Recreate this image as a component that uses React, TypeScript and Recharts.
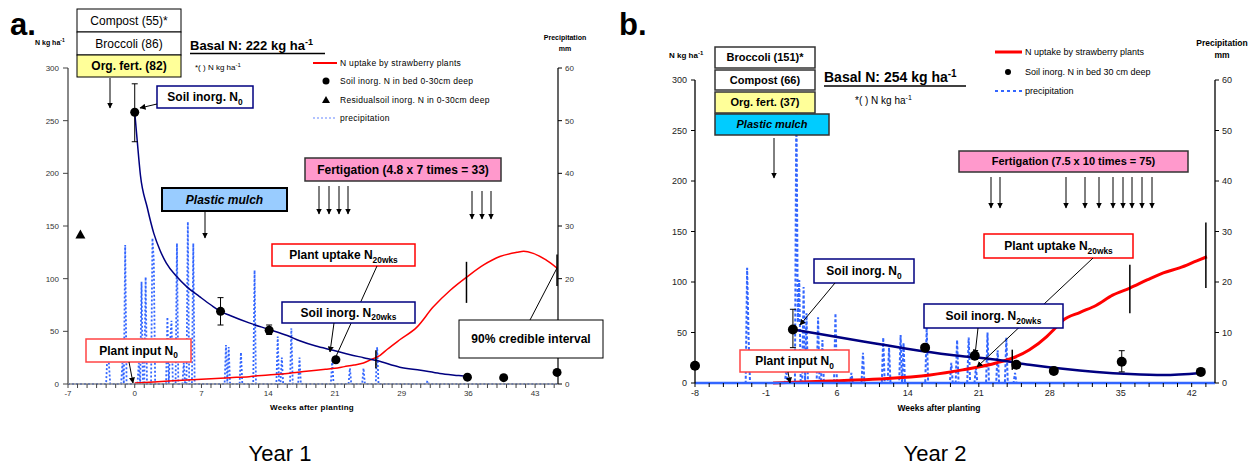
import React from 'react';
import { ComposedChart, Line, Scatter, XAxis, YAxis, ErrorBar } from 'recharts';

const FONT = "Arial, 'Liberation Sans', Helvetica, sans-serif";

// ---------------- Panel a (Year 1) data ----------------
// x values are plotting positions (weeks) on the figure's week axis
const xLabelPosA = [-7, 0, 7, 14, 21, 28, 35, 42];
const xLabelsA = ['-7', '0', '7', '14', '21', '29', '36', '43'];

const soilWeeksA = [0, 9, 14.1];
const soilValsA = [258, 69, 51];
const soilErrLoA = [28, 13, 4];
const soilErrHiA = [27, 13, 5];
const soilWeeksA2 = [21.1, 34.9, 38.7, 44.3];
const soilValsA2 = [23, 6.5, 6, 11];

const residWeeksA = [-5.7];
const residValsA = [142];

const soilCurveWeeksA = [0, 0.25, 0.6, 1.3, 2, 2.65, 3.3, 4.4, 5.5, 6.8, 8, 9, 10, 12, 14, 16, 17.3, 19, 20.8, 22.5, 24, 25.5, 27.8, 30, 32, 34, 35];
const soilCurveValsA = [258, 232, 198, 168, 143, 127, 115, 102, 92, 83, 75, 69, 65, 58, 52, 46, 41, 36, 32, 28, 25, 22, 16, 13, 10, 8, 7];

const uptakeWeeksA = [0, 2, 4, 6, 8, 10, 12, 14, 16, 18, 20, 21, 22, 23, 24, 25, 25.7, 26.5, 27.8, 29.6, 31.3, 33.1, 34.9, 36.6, 38.3, 40.1, 40.8, 41.8, 43.1, 44.3];
const uptakeValsA = [1, 2, 3, 4, 5, 6, 7, 8.5, 10, 12, 14, 15, 16.5, 18, 20, 24, 27, 33, 42, 54, 73, 89, 102, 113, 121, 125, 126, 124, 118, 110];

const ciWeeksA = [25.3, 34.8, 44.3];
const ciLoA = [15, 77, 93];
const ciHiA = [32, 116, 123];

const rainDaysA = [-20, -19, -9, -7, 3, 5, 8, 13, 14, 24, 26, 27, 31, 36, 39, 43, 67, 69, 78, 88, 105, 108, 115, 121, 145, 158, 168, 178, 215];
const rainMmA = [6, 4, 4, 26.4, 4, 19.4, 20.3, 27.7, 23.5, 12.7, 8, 12, 26.7, 4, 30.8, 26.7, 7.4, 7, 6, 21.6, 9, 5, 10.6, 5, 4.5, 3, 3, 7, 0.6];

// ---------------- Panel b (Year 2) data ----------------
const xLabelPosB = [-8, -1, 6, 13, 20, 27, 34, 41];
const xLabelsB = ['-8', '-1', '6', '14', '21', '28', '35', '42'];

const soilWeeksB = [1.66, 34.1];
const soilValsB = [53, 21];
const soilErrLoB = [18, 10];
const soilErrHiB = [20, 11];
const soilWeeksB2 = [-8, 14.7, 19.6, 23.7, 27.4, 41.9];
const soilValsB2 = [17, 35, 27, 18, 12, 11];

const soilCurveWeeksB = [1.66, 4.3, 8.6, 12.9, 17.1, 21.8, 25, 28.3, 31.6, 34.9, 38.2, 41.9];
const soilCurveValsB = [53, 48.5, 41, 34, 28, 23, 18, 14, 11, 9, 8, 10];

const uptakeWeeksB = [-0.3, 5.3, 10.2, 15.2, 18.4, 21.8, 23.4, 25, 26.7, 27.5, 28.3, 30, 31.6, 33.2, 34.9, 36.6, 38.2, 39.8, 41.5, 42.5];
const uptakeValsB = [0, 2, 4, 8, 13, 20, 25, 33, 46, 54, 62, 70, 77, 87, 94, 102, 109, 114, 121, 125];

const ciWeeksB = [23.3, 34.9, 42.4];
const ciLoB = [13, 69, 94];
const ciHiB = [33, 117, 159];

const rainDaysB = [-20, -19, 7, 14, 15, 16, 19, 21, 29, 32, 41, 52, 60, 74, 78, 86, 88, 104, 121, 125, 133, 138, 146, 153, 159, 165];
const rainMmB = [22.8, 9, 2.5, 57, 12, 20.4, 19, 13.8, 13, 8.5, 13.8, 2, 6, 9, 7, 9.5, 8, 11, 4, 8.5, 9, 3, 10, 6.5, 9, 2];

// ---------------- helpers ----------------
const pts = (xs: number[], ys: number[]) => xs.map((x, i) => ({ x, y: ys[i] }));
const errPts = (xs: number[], ys: number[], lo: number[], hi: number[]) =>
  xs.map((x, i) => ({ x, y: ys[i], err: [lo[i], hi[i]] }));
const ciPts = (xs: number[], lo: number[], hi: number[]) =>
  xs.map((x, i) => {
    const mid = (lo[i] + hi[i]) / 2;
    return { x, y: mid, err: [mid - lo[i], hi[i] - mid] };
  });
const dailyRain = (days: number[], mm: number[], d0: number, d1: number) => {
  const m = new Map<number, number>();
  days.forEach((d, i) => m.set(d, mm[i]));
  const out: { x: number; y: number }[] = [];
  for (let d = d0; d <= d1; d++) out.push({ x: d / 7, y: m.get(d) ?? 0 });
  return out;
};
const fmt = (pos: number[], labels: string[]) => (v: number) => {
  const i = pos.findIndex((p) => Math.abs(p - v) < 1e-6);
  return i >= 0 ? labels[i] : '';
};

const ticksA: number[] = [];
for (let k = -7; k <= 44; k++) ticksA.push(k);
const ticksB: number[] = [];
for (let k = 0; k <= 36; k++) ticksB.push(Number((-8 + k * 1.4).toFixed(2)));

const dataSoilA = errPts(soilWeeksA, soilValsA, soilErrLoA, soilErrHiA);
const dataSoilA2 = pts(soilWeeksA2, soilValsA2);
const dataResidA = pts(residWeeksA, residValsA);
const dataCurveA = pts(soilCurveWeeksA, soilCurveValsA);
const dataUptakeA = pts(uptakeWeeksA, uptakeValsA);
const dataCiA = ciPts(ciWeeksA, ciLoA, ciHiA);
const dataRainA = dailyRain(rainDaysA, rainMmA, -49, 310);

const dataSoilB = errPts(soilWeeksB, soilValsB, soilErrLoB, soilErrHiB);
const dataSoilB2 = pts(soilWeeksB2, soilValsB2);
const dataCurveB = pts(soilCurveWeeksB, soilCurveValsB);
const dataUptakeB = pts(uptakeWeeksB, uptakeValsB);
const dataCiB = ciPts(ciWeeksB, ciLoB, ciHiB);
const dataRainB = dailyRain(rainDaysB, rainMmB, -56, 303);

const Dot = (r: number) => (p: any) => <circle cx={p.cx} cy={p.cy} r={r} fill="#000" />;
const Tri = (p: any) => (
  <polygon points={`${p.cx},${p.cy - 5} ${p.cx - 5},${p.cy + 4} ${p.cx + 5},${p.cy + 4}`} fill="#000" />
);
const Nothing = () => <g />;

// ---------------- overlay helpers ----------------
type BoxProps = {
  x: number; y: number; w: number; h: number; fill?: string; stroke?: string; sw?: number;
  fs?: number; bold?: boolean; italic?: boolean; children: React.ReactNode;
};
const Box = ({ x, y, w, h, fill = '#fff', stroke = '#000', sw = 1.5, fs = 12, bold = true, italic = false, children }: BoxProps) => (
  <g>
    <rect x={x} y={y} width={w} height={h} fill={fill} stroke={stroke} strokeWidth={sw} />
    <text x={x + w / 2} y={y + h / 2 + fs * 0.36} textAnchor="middle" fontSize={fs}
      fontWeight={bold ? 'bold' : 'normal'} fontStyle={italic ? 'italic' : 'normal'} fill="#000">
      {children}
    </text>
  </g>
);
const Arrow = ({ x1, y1, x2, y2, head = true }: { x1: number; y1: number; x2: number; y2: number; head?: boolean }) => (
  <line x1={x1} y1={y1} x2={x2} y2={y2} stroke="#000" strokeWidth={1} markerEnd={head ? 'url(#ah)' : undefined} />
);
const Sub = ({ base, sub, fs }: { base: string; sub: string; fs: number }) => (
  <>
    <tspan>{base}</tspan>
    <tspan fontSize={fs * 0.7} dy={fs * 0.3}>{sub}</tspan>
  </>
);

const fertArrowsA = [319, 329, 339, 348];
const fertArrowsA2 = [472, 482, 491];
const fertArrowsB = [991, 1000, 1066, 1085, 1099, 1113, 1123, 1132, 1142, 1152];

const tickStyleA = { fontSize: 8, fill: '#333', fontFamily: FONT };
const tickStyleB = { fontSize: 9, fill: '#222', fontFamily: FONT };

function PanelA() {
  return (
    <div style={{ position: 'absolute', left: 0, top: 0 }}>
      <ComposedChart width={620} height={430} margin={{ top: 68, right: 22, bottom: 16, left: 28 }}>
        <XAxis type="number" dataKey="x" domain={[-7, 44.4]} ticks={ticksA} interval={0}
          tickFormatter={fmt(xLabelPosA, xLabelsA)} tickSize={4} tickMargin={2} height={30}
          axisLine={{ stroke: '#888', strokeWidth: 1.5 }} tickLine={{ stroke: '#444' }} tick={tickStyleA} />
        <YAxis yAxisId="l" type="number" domain={[0, 300]} ticks={[0, 50, 100, 150, 200, 250, 300]} width={40}
          tickSize={5} tickMargin={4} axisLine={{ stroke: '#888', strokeWidth: 2 }} tickLine={{ stroke: '#444' }} tick={tickStyleA} />
        <YAxis yAxisId="r" orientation="right" type="number" domain={[0, 60]} ticks={[0, 10, 20, 30, 40, 50, 60]} width={40}
          tickSize={4} tickMargin={3} axisLine={{ stroke: '#000', strokeWidth: 1.2 }} tickLine={{ stroke: '#000' }} tick={tickStyleA} />
        <Line yAxisId="r" data={dataRainA} dataKey="y" stroke="#3366FF" strokeWidth={1.8} strokeDasharray="2 2"
          dot={false} isAnimationActive={false} />
        <Line yAxisId="l" data={dataUptakeA} dataKey="y" type="monotone" stroke="#FF0000" strokeWidth={1.5}
          dot={false} isAnimationActive={false} />
        <Line yAxisId="l" data={dataCurveA} dataKey="y" type="monotone" stroke="#000080" strokeWidth={1.5}
          dot={false} isAnimationActive={false} />
        <Scatter yAxisId="l" data={dataCiA} dataKey="y" shape={Nothing} isAnimationActive={false}>
          <ErrorBar dataKey="err" direction="y" width={0} stroke="#000" strokeWidth={1.5} />
        </Scatter>
        <Scatter yAxisId="l" data={dataSoilA} dataKey="y" shape={Dot(4.5)} isAnimationActive={false}>
          <ErrorBar dataKey="err" direction="y" width={3} stroke="#000" strokeWidth={1} />
        </Scatter>
        <Scatter yAxisId="l" data={dataSoilA2} dataKey="y" shape={Dot(4.5)} isAnimationActive={false} />
        <Scatter yAxisId="l" data={dataResidA} dataKey="y" shape={Tri} isAnimationActive={false} />
      </ComposedChart>
    </div>
  );
}

function PanelB() {
  return (
    <div style={{ position: 'absolute', left: 630, top: 0 }}>
      <ComposedChart width={628} height={430} margin={{ top: 80, right: 3, bottom: 17, left: 25 }}>
        <XAxis type="number" dataKey="x" domain={[-8, 43.3]} ticks={ticksB} interval={0}
          tickFormatter={fmt(xLabelPosB, xLabelsB)} tickSize={4} tickMargin={3} height={30}
          axisLine={{ stroke: '#3366FF', strokeWidth: 2.5 }} tickLine={{ stroke: '#000' }} tick={tickStyleB} />
        <YAxis yAxisId="l" type="number" domain={[0, 300]} ticks={[0, 50, 100, 150, 200, 250, 300]} width={40}
          tickSize={4} tickMargin={4} axisLine={{ stroke: '#000', strokeWidth: 1.3 }} tickLine={{ stroke: '#000' }} tick={tickStyleB} />
        <YAxis yAxisId="r" orientation="right" type="number" domain={[0, 60]} ticks={[0, 10, 20, 30, 40, 50, 60]} width={40}
          tickSize={4} tickMargin={3} axisLine={{ stroke: '#000', strokeWidth: 1.3 }} tickLine={{ stroke: '#000' }} tick={tickStyleB} />
        <Line yAxisId="r" data={dataRainB} dataKey="y" stroke="#3366FF" strokeWidth={2} strokeDasharray="3 2"
          dot={false} isAnimationActive={false} />
        <Line yAxisId="l" data={dataUptakeB} dataKey="y" type="monotone" stroke="#FF0000" strokeWidth={3}
          dot={false} isAnimationActive={false} />
        <Line yAxisId="l" data={dataCurveB} dataKey="y" type="monotone" stroke="#000080" strokeWidth={2.5}
          dot={false} isAnimationActive={false} />
        <Scatter yAxisId="l" data={dataCiB} dataKey="y" shape={Nothing} isAnimationActive={false}>
          <ErrorBar dataKey="err" direction="y" width={0} stroke="#000" strokeWidth={1.5} />
        </Scatter>
        <Scatter yAxisId="l" data={dataSoilB} dataKey="y" shape={Dot(5)} isAnimationActive={false}>
          <ErrorBar dataKey="err" direction="y" width={3} stroke="#000" strokeWidth={1} />
        </Scatter>
        <Scatter yAxisId="l" data={dataSoilB2} dataKey="y" shape={Dot(5)} isAnimationActive={false} />
      </ComposedChart>
    </div>
  );
}

function Overlay() {
  return (
    <svg width={1258} height={468} style={{ position: 'absolute', left: 0, top: 0, pointerEvents: 'none' }}
      fontFamily={FONT}>
      <defs>
        <marker id="ah" markerWidth="6" markerHeight="6" refX="5.5" refY="3" orient="auto" markerUnits="userSpaceOnUse">
          <path d="M0,0 L6,3 L0,6 z" fill="#000" />
        </marker>
      </defs>

      {/* ---------- panel a ---------- */}
      <text x={10} y={35} fontSize={31} fontWeight="bold">a.</text>
      <text x={35} y={45} fontSize={7} fontWeight="bold">N kg ha<tspan fontSize={5} dy={-3}>-1</tspan></text>
      <Box x={77} y={9} w={104} h={23} bold={false} sw={1}>Compost (55)*</Box>
      <Box x={77} y={32} w={104} h={23} bold={false} sw={1}>Broccoli (86)</Box>
      <Box x={77} y={55} w={104} h={22} fill="#FFFF99" sw={1}>Org. fert. (82)</Box>
      <Arrow x1={110} y1={78} x2={110} y2={108} />
      <text x={190} y={50} fontSize={13} fontWeight="bold">Basal N: 222 kg ha<tspan fontSize={9} dy={-5}>-1</tspan></text>
      <line x1={190} y1={53.5} x2={325} y2={53.5} stroke="#000" strokeWidth={1.3} />
      <text x={195} y={70} fontSize={8}>*( ) N kg ha<tspan fontSize={6} dy={-3}>-1</tspan></text>

      <line x1={313} y1={63} x2={337} y2={63} stroke="#FF0000" strokeWidth={2} />
      <text x={340} y={66} fontSize={8.5} letterSpacing={0.3}>N uptake by strawberry plants</text>
      <circle cx={326} cy={81} r={3.5} fill="#000" />
      <text x={340} y={84} fontSize={8.5} letterSpacing={0.3}>Soil inorg. N in bed 0-30cm deep</text>
      <polygon points="326,96 322,103 330,103" fill="#000" />
      <text x={340} y={103} fontSize={8.5} letterSpacing={0.3}>Residualsoil inorg. N in 0-30cm deep</text>
      <line x1={313} y1={118} x2={337} y2={118} stroke="#6688FF" strokeWidth={1.2} strokeDasharray="2 2" />
      <text x={340} y={121} fontSize={8.5} letterSpacing={0.3}>precipitation</text>

      <text x={565} y={40} fontSize={7} fontWeight="bold" textAnchor="middle">Precipitation</text>
      <text x={565} y={51} fontSize={7} fontWeight="bold" textAnchor="middle">mm</text>

      <Box x={157} y={86} w={96} h={22} stroke="#000080"><Sub base="Soil inorg. N" sub="0" fs={12} /></Box>
      <Arrow x1={157} y1={104} x2={140} y2={108} />
      <Box x={162} y={188} w={125} h={23} fill="#99CCFF" sw={2} italic>Plastic mulch</Box>
      <Arrow x1={205} y1={211} x2={205} y2={238} />
      <Box x={305} y={158} w={196} h={23} fill="#FF99CC" stroke="#333">Fertigation (4.8 x 7 times = 33)</Box>
      {fertArrowsA.map((x) => <Arrow key={x} x1={x} y1={186} x2={x} y2={214} />)}
      {fertArrowsA2.map((x) => <Arrow key={x} x1={x} y1={191} x2={x} y2={219} />)}
      <Box x={272} y={244} w={143} h={22} stroke="#FF0000"><Sub base="Plant uptake N" sub="20wks" fs={12} /></Box>
      <Arrow x1={377} y1={266} x2={333} y2={363} />
      <Box x={282} y={302} w={133} h={21} stroke="#000080"><Sub base="Soil inorg. N" sub="20wks" fs={12} /></Box>
      <Arrow x1={334} y1={323} x2={330} y2={352} />
      <Box x={86} y={339} w={105} h={23} stroke="#FF4444"><Sub base="Plant input N" sub="0" fs={12} /></Box>
      <Arrow x1={129} y1={362} x2={133} y2={383} />
      <Box x={459} y={320} w={144} h={38} sw={1}>90% credible interval</Box>
      <Arrow x1={530} y1={320} x2={557} y2={268} head={false} />

      <text x={312} y={410} fontSize={8} fontWeight="bold" textAnchor="middle" letterSpacing={0.3}>Weeks after planting</text>
      <text x={280} y={461} fontSize={22} textAnchor="middle">Year 1</text>

      {/* ---------- panel b ---------- */}
      <text x={619} y={35} fontSize={31} fontWeight="bold">b.</text>
      <text x={669} y={58} fontSize={8} fontWeight="bold">N kg ha<tspan fontSize={6} dy={-3}>-1</tspan></text>
      <Box x={715} y={47} w={100} h={21} fs={11} stroke="#333">Broccoli (151)*</Box>
      <Box x={715} y={70} w={100} h={20} fs={11} stroke="#333">Compost (66)</Box>
      <Box x={715} y={92} w={100} h={21} fs={11} fill="#FFFF99" stroke="#333">Org. fert. (37)</Box>
      <Box x={715} y={114} w={114} h={21} fs={11} fill="#00CCFF" stroke="#333" italic>Plastic mulch</Box>
      <Arrow x1={774} y1={138} x2={774} y2={178} />
      <text x={824} y={82} fontSize={14} fontWeight="bold">Basal N: 254 kg ha<tspan fontSize={10} dy={-5}>-1</tspan></text>
      <line x1={824} y1={86} x2={966} y2={86} stroke="#000" strokeWidth={1.4} />
      <text x={855} y={104} fontSize={10}>*( ) N kg ha<tspan fontSize={7} dy={-4}>-1</tspan></text>

      <line x1={995} y1={52} x2={1022} y2={52} stroke="#FF0000" strokeWidth={3} />
      <text x={1025} y={55} fontSize={9}>N uptake by strawberry plants</text>
      <circle cx={1008} cy={72} r={3} fill="#000" />
      <text x={1025} y={75} fontSize={9}>Soil inorg. N in bed 30 cm deep</text>
      <line x1={995} y1={91} x2={1022} y2={91} stroke="#3366FF" strokeWidth={2} strokeDasharray="3 3" />
      <text x={1025} y={94} fontSize={9}>precipitation</text>

      <text x={1222} y={46} fontSize={8.5} fontWeight="bold" textAnchor="middle">Precipitation</text>
      <text x={1222} y={58} fontSize={8.5} fontWeight="bold" textAnchor="middle">mm</text>

      <Box x={959} y={151} w={229} h={21} fs={11} fill="#FF99CC" stroke="#333">Fertigation (7.5 x 10 times = 75)</Box>
      {fertArrowsB.map((x) => <Arrow key={x} x1={x} y1={177} x2={x} y2={208} />)}
      <Box x={984} y={234} w={149} h={24} stroke="#FF0000"><Sub base="Plant uptake N" sub="20wks" fs={12} /></Box>
      <Arrow x1={1093} y1={258} x2={977} y2={367} />
      <Box x={814} y={259} w={100} h={24} stroke="#000080"><Sub base="Soil inorg. N" sub="0" fs={12} /></Box>
      <Arrow x1={835} y1={283} x2={800} y2={325} />
      <Box x={924} y={304} w={139} h={24} stroke="#000080"><Sub base="Soil inorg. N" sub="20wks" fs={12} /></Box>
      <Arrow x1={978} y1={328} x2={975} y2={355} />
      <Box x={740} y={350} w={109} h={22} stroke="#FF4444"><Sub base="Plant input N" sub="0" fs={12} /></Box>
      <Arrow x1={788} y1={372} x2={790} y2={383} />

      <text x={939} y={411} fontSize={8.5} fontWeight="bold" textAnchor="middle">Weeks after planting</text>
      <text x={935} y={461} fontSize={22} textAnchor="middle">Year 2</text>
    </svg>
  );
}

export default function App() {
  return (
    <div style={{ position: 'absolute', left: 0, top: 0, width: 1258, height: 468, background: '#fff', fontFamily: FONT, overflow: 'hidden' }}>
      <PanelA />
      <PanelB />
      <Overlay />
    </div>
  );
}
